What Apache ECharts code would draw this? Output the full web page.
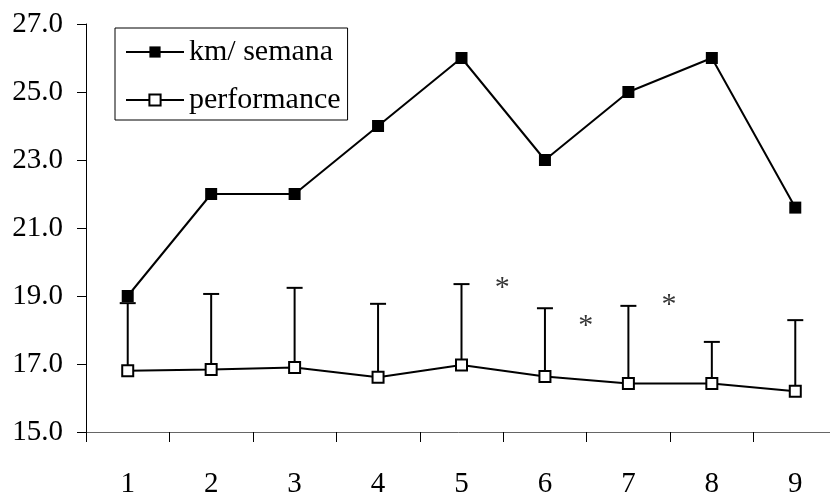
<!DOCTYPE html>
<html>
<head>
<meta charset="utf-8">
<script src="https://cdn.jsdelivr.net/npm/echarts@6/dist/echarts.min.js"></script>
<style>html,body{margin:0;padding:0;background:#fff}#c{width:830px;height:492px}</style>
</head>
<body>
<div id="c"></div>
<script>
var categories = ['1','2','3','4','5','6','7','8','9'];
var kmSemana = [19.0, 22.0, 22.0, 24.0, 26.0, 23.0, 25.0, 26.0, 21.6];
var performance = [16.8, 16.84, 16.9, 16.61, 16.97, 16.63, 16.43, 16.43, 16.2];
var performanceErrTop = [18.79, 19.06, 19.24, 18.77, 19.35, 18.64, 18.71, 17.65, 18.29];
var asteriskX = [5.5, 6.5, 7.5];
var asteriskY = [19.32, 18.2, 18.82];
var yTicks = [15, 17, 19, 21, 23, 25, 27];

var FONT = '"Liberation Serif", "Times New Roman", serif';
var chart = echarts.init(document.getElementById('c'), null, {renderer: 'canvas'});

var errData = categories.map(function (c, i) { return [i, performance[i], performanceErrTop[i]]; });
var astData = asteriskX.map(function (x, i) { return [x, asteriskY[i]]; });

chart.setOption({
  animation: false,
  backgroundColor: '#fff',
  grid: {left: 86, top: 24, bottom: 60, right: -7, containLabel: false, outerBoundsMode: 'none'},
  legend: {
    data: ['km/ semana', 'performance'],
    orient: 'vertical',
    left: 115, top: 28,
    borderColor: '#000', borderWidth: 1,
    padding: [9, 7, 5, 10],
    itemGap: 18,
    itemWidth: 58, itemHeight: 14,
    textStyle: {fontFamily: FONT, fontSize: 30, color: '#000'}
  },
  xAxis: [{
    type: 'category',
    data: categories,
    boundaryGap: true,
    axisLine: {lineStyle: {color: '#666', width: 1}},
    axisTick: {show: true, length: 10, lineStyle: {color: '#000'}},
    axisLabel: {fontFamily: FONT, fontSize: 29, color: '#000', margin: 38},
    splitLine: {show: false}
  }, {
    type: 'value', min: 0.5, max: 9.5, show: false
  }],
  yAxis: {
    type: 'value',
    min: yTicks[0], max: yTicks[yTicks.length - 1], interval: 2,
    axisLine: {show: true, lineStyle: {color: '#000', width: 1}},
    axisTick: {show: true, length: 9, lineStyle: {color: '#000'}},
    axisLabel: {fontFamily: FONT, fontSize: 29, color: '#000', margin: 23,
      formatter: function (v) { return v.toFixed(1); }},
    splitLine: {show: false}
  },
  series: [{
    type: 'custom',
    name: 'err',
    xAxisIndex: 0,
    data: errData,
    renderItem: function (params, api) {
      var b = api.coord([api.value(0), api.value(1)]);
      var t = api.coord([api.value(0), api.value(2)]);
      var hw = 8;
      return {
        type: 'group',
        children: [{
          type: 'line', shape: {x1: b[0], y1: b[1], x2: t[0], y2: t[1]},
          style: {stroke: '#000', lineWidth: 2}
        }, {
          type: 'line', shape: {x1: t[0] - hw, y1: t[1], x2: t[0] + hw, y2: t[1]},
          style: {stroke: '#000', lineWidth: 2}
        }]
      };
    }
  }, {
    type: 'line',
    name: 'km/ semana',
    data: kmSemana,
    symbol: 'rect', symbolSize: 12,
    itemStyle: {color: '#000'},
    lineStyle: {color: '#000', width: 2}
  }, {
    type: 'line',
    name: 'performance',
    data: performance,
    symbol: 'rect', symbolSize: 11,
    itemStyle: {color: '#fff', borderColor: '#000', borderWidth: 2},
    lineStyle: {color: '#000', width: 2}
  }, {
    type: 'scatter',
    name: 'ast',
    xAxisIndex: 1,
    data: astData,
    symbolSize: 0,
    label: {show: true, position: 'inside', formatter: '*', offset: [-1, 3],
      fontFamily: FONT, fontSize: 30, color: '#000'}
  }]
});
</script>
</body>
</html>
